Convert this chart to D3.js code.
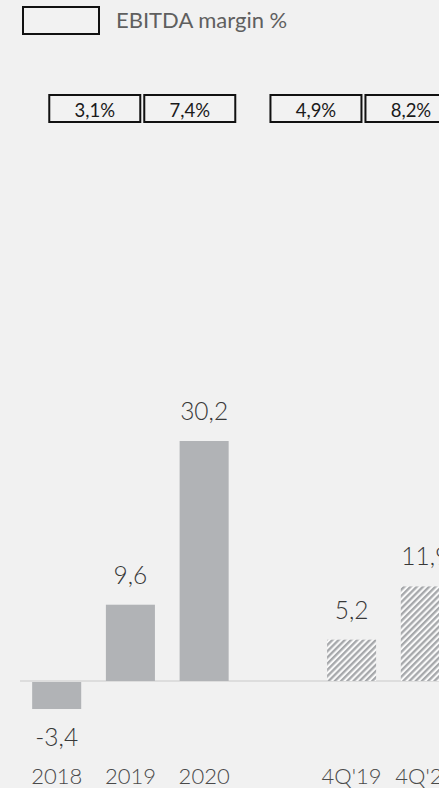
<!DOCTYPE html>
<html>
<head>
<meta charset="utf-8">
<script src="https://cdn.jsdelivr.net/npm/d3@7"></script>
<style>
  html, body { margin: 0; padding: 0; background: #f1f1f1; }
  svg { display: block; }
</style>
</head>
<body>
<svg id="chart" width="439" height="788"></svg>
<script>
// EBITDA (full years and fourth quarters) with EBITDA margin per period
const categories = ["2018", "2019", "2020", "4Q'19", "4Q'20"];
const ebitda = [-3.4, 9.6, 30.2, 5.2, 11.9];
const valueLabels = ["-3,4", "9,6", "30,2", "5,2", "11,9"];
const quarterly = [false, false, false, true, true];
const marginCategories = ["2019", "2020", "4Q'19", "4Q'20"];
const marginLabels = ["3,1%", "7,4%", "4,9%", "8,2%"];
const legendLabel = "EBITDA margin %";

const W = 439, H = 788;
const svg = d3.select("#chart");

// spacer slot keeps the yearly and quarterly groups apart
const slots = ["2018", "2019", "2020", "_gap", "4Q'19", "4Q'20"];
const x = d3.scaleBand().domain(slots).range([20, 462]).paddingInner(0.335).paddingOuter(0.165);
const y = d3.scaleLinear().domain([0, 30.2]).range([681, 441]);

const defs = svg.append("defs");
const hatch = defs.append("pattern")
  .attr("id", "hatch")
  .attr("patternUnits", "userSpaceOnUse")
  .attr("width", 4.4).attr("height", 4.4)
  .attr("patternTransform", "rotate(45)");
hatch.append("rect").attr("width", 4.4).attr("height", 4.4).attr("fill", "#f9f9f9");
hatch.append("rect").attr("width", 2.3).attr("height", 4.4).attr("fill", "#a6a8ab");

// legend
svg.append("rect").attr("x", 23).attr("y", 7).attr("width", 76).attr("height", 27)
  .attr("fill", "#f2f2f2").attr("stroke", "#111").attr("stroke-width", 2);
svg.append("text").attr("x", 116).attr("y", 28)
  .attr("font-family", "Lato, 'Open Sans', sans-serif").attr("font-size", 22)
  .attr("fill", "#5f5f5f").text(legendLabel);

// margin boxes, laid out in pairs above each bar group
const boxW = 91, boxGap = 4, boxTop = 95, boxH = 27, pairShift = -25;
function boxX(cat) {
  const i = marginCategories.indexOf(cat);
  const pair = i < 2 ? ["2019", "2020"] : ["4Q'19", "4Q'20"];
  const mid = (x(pair[0]) + x(pair[1]) + x.bandwidth()) / 2 + pairShift;
  const left = mid - boxW - boxGap / 2;
  return i % 2 === 0 ? left : left + boxW + boxGap;
}
const boxes = svg.append("g").selectAll("g").data(marginCategories).join("g");
boxes.append("rect")
  .attr("x", d => boxX(d)).attr("y", boxTop).attr("width", boxW).attr("height", boxH)
  .attr("fill", "#f2f2f2").attr("stroke", "#111").attr("stroke-width", 2);
boxes.append("text")
  .attr("x", d => boxX(d) + boxW / 2).attr("y", boxTop + 22)
  .attr("text-anchor", "middle")
  .attr("font-family", "Lato, 'Open Sans', sans-serif").attr("font-size", 18.5)
  .attr("fill", "#1a1a1a")
  .text((d, i) => marginLabels[i]);

// zero line
svg.append("line").attr("x1", 20).attr("x2", W).attr("y1", y(0)).attr("y2", y(0))
  .attr("stroke", "#d6d6d6").attr("stroke-width", 1.5);

// bars
const data = categories.map((c, i) => ({ c, v: ebitda[i], label: valueLabels[i], q: quarterly[i] }));
svg.append("g").selectAll("rect").data(data).join("rect")
  .attr("x", d => x(d.c))
  .attr("width", x.bandwidth())
  .attr("y", d => Math.min(y(d.v), y(0) + 1))
  .attr("height", d => Math.abs(y(d.v) - y(0)))
  .attr("fill", d => d.q ? "url(#hatch)" : "#b1b3b6");

// value labels
svg.append("g").selectAll("text").data(data).join("text")
  .attr("x", d => x(d.c) + x.bandwidth() / 2)
  .attr("y", d => d.v >= 0 ? y(d.v) - 21 : y(d.v) + 38)
  .attr("text-anchor", "middle")
  .attr("font-family", "Lato, 'Open Sans', sans-serif").attr("font-weight", 300)
  .attr("font-size", 24.5)
  .attr("fill", "#383838")
  .text(d => d.label);

// category axis labels
const xAxis = d3.axisBottom(x).tickSize(0).tickPadding(0).tickFormat(d => d === "_gap" ? "" : d);
const ax = svg.append("g").attr("transform", "translate(0,765)").call(xAxis);
ax.select(".domain").remove();
ax.selectAll("text")
  .attr("dy", "0.85em")
  .attr("font-family", "Lato, 'Open Sans', sans-serif").attr("font-weight", 300)
  .attr("font-size", 22)
  .attr("fill", "#4a4a4a");
</script>
</body>
</html>
